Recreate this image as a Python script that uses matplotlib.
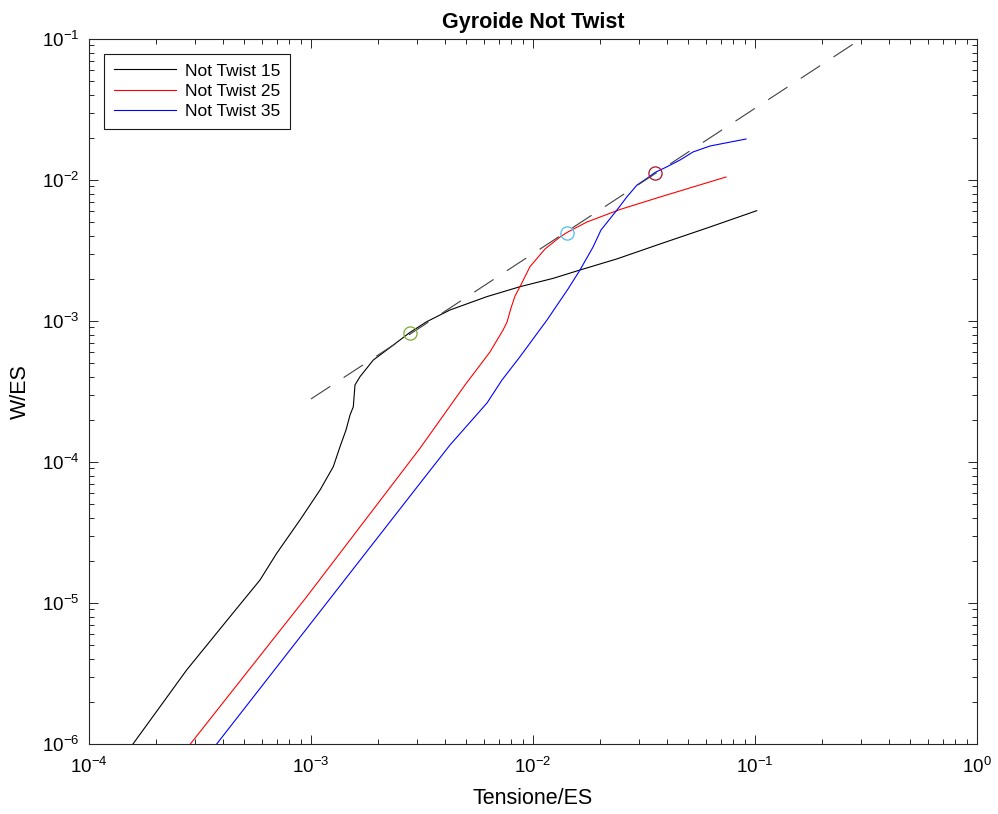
import matplotlib
matplotlib.use('Agg')
import matplotlib.pyplot as plt

plt.rcParams.update({
    'font.family': 'Liberation Sans',
    'mathtext.fontset': 'custom',
    'mathtext.rm': 'Liberation Sans',
    'mathtext.it': 'Liberation Sans:italic',
    'mathtext.bf': 'Liberation Sans:bold',
})

# Not Twist 15
x15 = [1.578e-4, 2.754e-4, 4.315e-4, 5.892e-4, 7.007e-4, 8.92e-4, 1.098e-3, 1.260e-3,
       1.351e-3, 1.438e-3, 1.499e-3, 1.551e-3, 1.578e-3, 1.662e-3, 1.909e-3, 2.193e-3,
       2.792e-3, 3.32e-3, 4.227e-3, 6.185e-3, 8.737e-3, 0.01234, 0.01628, 0.02382,
       0.03733, 0.06269, 0.1018]
y15 = [1.0e-6, 3.35e-6, 7.99e-6, 1.456e-5, 2.252e-5, 3.879e-5, 6.33e-5, 9.26e-5,
       1.284e-4, 1.687e-4, 2.154e-4, 2.467e-4, 3.517e-4, 4.027e-4, 5.29e-4, 6.225e-4,
       8.30e-4, 9.885e-4, 1.197e-3, 1.487e-3, 1.751e-3, 2.008e-3, 2.300e-3, 2.753e-3,
       3.516e-3, 4.642e-3, 6.058e-3]

# Not Twist 25
x25 = [2.862e-4, 9.563e-4, 3.097e-3, 4.94e-3, 6.40e-3, 7.33e-3, 7.64e-3, 7.96e-3,
       8.30e-3, 8.737e-3, 9.69e-3, 0.01132, 0.01323, 0.01422, 0.01750, 0.02465,
       0.03733, 0.05257, 0.07403]
y25 = [1.0e-6, 1.108e-5, 1.251e-4, 3.517e-4, 6.03e-4, 8.63e-4, 9.84e-4, 1.237e-3,
       1.504e-3, 1.751e-3, 2.427e-3, 3.240e-3, 3.941e-3, 4.243e-3, 5.036e-3, 6.178e-3,
       7.574e-3, 8.92e-3, 0.01050]

# Not Twist 35
x35 = [3.76e-4, 3.097e-3, 4.227e-3, 6.205e-3, 7.25e-3, 8.737e-3, 0.01156, 0.01438,
       0.01628, 0.01864, 0.02024, 0.02389, 0.02651, 0.02941, 0.03262, 0.03543,
       0.04015, 0.04595, 0.05257, 0.06269, 0.07479, 0.09111]
y35 = [1.0e-6, 7.06e-5, 1.320e-4, 2.620e-4, 3.816e-4, 5.58e-4, 1.016e-3, 1.687e-3,
       2.300e-3, 3.347e-3, 4.418e-3, 6.125e-3, 7.61e-3, 9.21e-3, 0.01028, 0.01130,
       0.01242, 0.01386, 0.01580, 0.01742, 0.01839, 0.01953]

# fitted envelope line
fit_x = [1e-3, 0.3]
fit_y = [2.8e-4, 0.1]

# marked points
mark_x = [2.79e-3, 0.01422, 0.0355]
mark_y = [8.2e-4, 4.2e-3, 0.0112]
mark_colors = ['#77ac30', '#4dbeee', '#a2142f']

labels = ['Not Twist 15', 'Not Twist 25', 'Not Twist 35']

fig = plt.figure(figsize=(9.98, 8.14), dpi=100)
ax = fig.add_axes([89/998, 70/814, 888/998, 705/814])

ax.plot(x15, y15, color='k', lw=0.8, label=labels[0])
ax.plot(x25, y25, color='r', lw=0.8, label=labels[1])
ax.plot(x35, y35, color='b', lw=0.8, label=labels[2])
ax.plot(fit_x, fit_y, color='0.25', lw=0.8, dashes=(16.6/0.8, 11.5/0.8))
for mx, my, mc in zip(mark_x, mark_y, mark_colors):
    ax.plot(mx, my, 'o', mfc='none', mec=mc, ms=9.5, mew=0.9)

ax.set_xscale('log')
ax.set_yscale('log')
ax.set_xlim(1e-4, 1e0)
ax.set_ylim(1e-6, 1e-1)

for s in ax.spines.values():
    s.set_color('0.15')
    s.set_linewidth(0.8)
ax.tick_params(which='both', direction='in', top=True, right=True, color='0.15',
               labelsize=13.5, width=0.7)
ax.tick_params(which='major', length=6.5)
ax.tick_params(which='minor', length=3.5)
ax.tick_params(axis='x', pad=9)
ax.tick_params(axis='y', pad=7)

ax.set_xlabel('Tensione/ES', fontsize=15.5, labelpad=8)
ax.set_ylabel('W/ES', fontsize=15.5, labelpad=8)
ax.set_title('Gyroide Not Twist', fontsize=15.5, fontweight='bold', pad=8)

leg = ax.legend(loc='upper left', bbox_to_anchor=(0.017, 0.979), borderaxespad=0,
                fontsize=12.5, fancybox=False, framealpha=1, edgecolor='0.1',
                handlelength=3.6, handletextpad=0.5, labelspacing=0.3, borderpad=0.55)
leg.get_frame().set_linewidth(0.8)

fig.savefig('out.png', dpi=100)
